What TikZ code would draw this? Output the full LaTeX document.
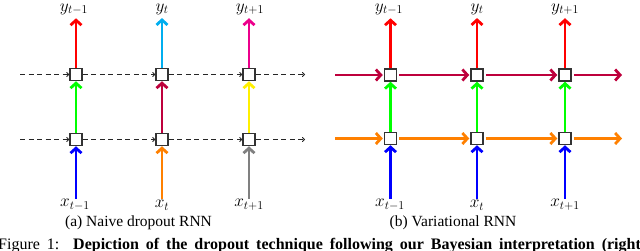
\documentclass[tikz,border=0pt]{standalone}
\usepackage{fontspec}
\setmainfont{Liberation Serif}
\usetikzlibrary{arrows.meta}
\definecolor{cred}{RGB}{255,0,0}
\definecolor{ccyan}{RGB}{0,174,239}
\definecolor{cmag}{RGB}{236,0,140}
\definecolor{cgreen}{RGB}{0,255,0}
\definecolor{ccrim}{RGB}{190,0,60}
\definecolor{cyell}{RGB}{255,240,0}
\definecolor{cblue}{RGB}{0,0,255}
\definecolor{corange}{RGB}{255,128,0}
\definecolor{cgray}{RGB}{128,128,128}
\begin{document}
\begin{tikzpicture}[x=1pt,y=-1pt,
  cell/.style={draw=black!80,line width=1.5pt,fill=white,minimum size=12pt,inner sep=0pt},
  lab/.style={font=\fontsize{17.5}{21}\selectfont,inner sep=0.5pt},
  ylab/.style={lab,anchor=base},
  arr/.style={line width=2.8pt,-{Straight Barb[length=5pt,width=11pt]}},
  darr/.style={line width=0.9pt,black!85,dash pattern=on 5pt off 3.5pt,-{To[length=3pt,width=5pt]}},
  txt/.style={font=\fontsize{15.5}{18}\selectfont,inner sep=0pt},
  figtxt/.style={font=\fontsize{16}{19}\selectfont,inner sep=0pt}]
\useasboundingbox (0,0) rectangle (640,250);
\clip (0,0) rectangle (640,250);
% ---------- left panel ----------
\foreach \i/\x in {1/76,2/162,3/249}{
  \node[cell] (u\i) at (\x,74.5) {};
  \node[cell] (l\i) at (\x,139.5) {};
}
\node[ylab] (y1) at (74,11) {$y_{t-1}$};
\node[ylab] (y2) at (162,11) {$y_{t}$};
\node[ylab] (y3) at (250,11) {$y_{t+1}$};
\node[lab] (x1) at (75,205) {$x_{t-1}$};
\node[lab] (x2) at (162,205) {$x_{t}$};
\node[lab] (x3) at (249,205) {$x_{t+1}$};
\draw[arr,cred,shorten >=3pt] (u1.north) -- (u1.north |- y1.south);
\draw[arr,ccyan,shorten >=3pt] (u2.north) -- (y2.south);
\draw[arr,cmag,shorten >=3pt] (u3.north) -- (u3.north |- y3.south);
\draw[arr,cgreen] (l1.north) -- (u1.south);
\draw[arr,ccrim] (l2.north) -- (u2.south);
\draw[arr,cyell] (l3.north) -- (u3.south);
\draw[arr,cblue] (l1.south |- x1.north) -- (l1.south);
\draw[arr,corange] (x2.north) -- (l2.south);
\draw[arr,cgray] (l3.south |- x3.north) -- (l3.south);
\coordinate (ls1) at (20,74.5);
\coordinate (le1) at (305,74.5);
\coordinate (ls2) at (20,139.5);
\coordinate (le2) at (305,139.5);
\draw[darr] (ls1) -- (u1.west);
\draw[darr] (u1.east) -- (u2.west);
\draw[darr] (u2.east) -- (u3.west);
\draw[darr] (u3.east) -- (le1);
\draw[darr] (ls2) -- (l1.west);
\draw[darr] (l1.east) -- (l2.west);
\draw[darr] (l2.east) -- (l3.west);
\draw[darr] (l3.east) -- (le2);
\node[txt] (capa) at (138.5,223) {(a) Naive dropout RNN};
% ---------- right panel ----------
\foreach \i/\x in {1/390.5,2/477,3/565}{
  \node[cell] (U\i) at (\x,75) {};
  \node[cell] (L\i) at (\x,138.5) {};
}
\node[ylab] (Y1) at (389,11) {$y_{t-1}$};
\node[ylab] (Y2) at (477,11) {$y_{t}$};
\node[ylab] (Y3) at (565,11) {$y_{t+1}$};
\node[lab] (X1) at (390,205) {$x_{t-1}$};
\node[lab] (X2) at (477,205) {$x_{t}$};
\node[lab] (X3) at (565,205) {$x_{t+1}$};
\foreach \i in {1,2,3}{
  \draw[arr,cred,shorten >=3pt] (U\i.north) -- (U\i.north |- Y\i.south);
  \draw[arr,cgreen] (L\i.north) -- (U\i.south);
  \draw[arr,cblue] (L\i.south |- X\i.north) -- (L\i.south);
}
\coordinate (RS1) at (335,75);
\coordinate (RE1) at (622,75);
\coordinate (RS2) at (335,138.5);
\coordinate (RE2) at (622,138.5);
\draw[arr,ccrim,shorten >=1pt] (RS1) -- (U1.west);
\draw[arr,ccrim,shorten <=2pt,shorten >=1pt] (U1.east) -- (U2.west);
\draw[arr,ccrim,shorten <=2pt,shorten >=1pt] (U2.east) -- (U3.west);
\draw[arr,ccrim,shorten <=2pt] (U3.east) -- (RE1);
\draw[arr,corange,shorten >=1pt] (RS2) -- (L1.west);
\draw[arr,corange,shorten <=2pt,shorten >=1pt] (L1.east) -- (L2.west);
\draw[arr,corange,shorten <=2pt,shorten >=1pt] (L2.east) -- (L3.west);
\draw[arr,corange,shorten <=2pt] (L3.east) -- (RE2);
\node[txt] (capb) at (453,223) {(b) Variational RNN};
% ---------- figure caption (cut off) ----------
\node[figtxt,anchor=base west] (fig) at (-2,249) {\hbox to 648pt{Figure 1:\ \ \textbf{Depiction of the dropout technique following our Bayesian interpretation (right)}}};
\end{tikzpicture}
\end{document}
